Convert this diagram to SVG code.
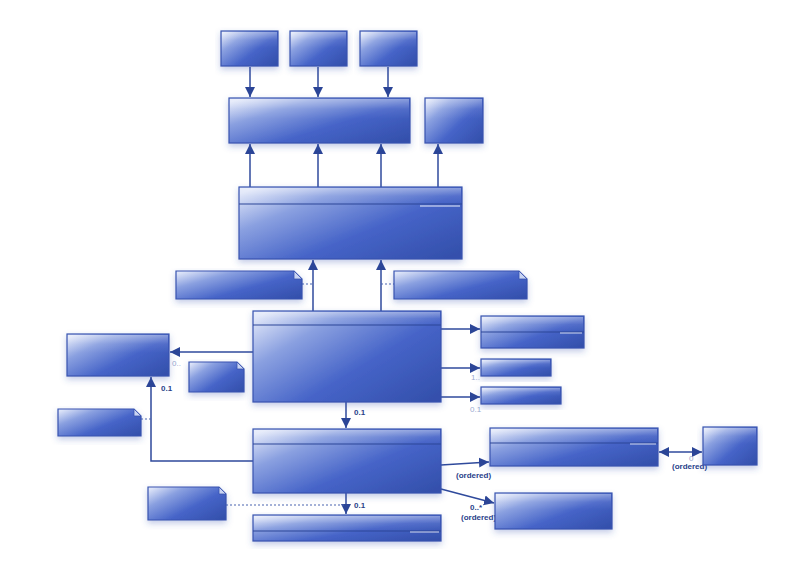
<svg xmlns="http://www.w3.org/2000/svg" width="800" height="565" viewBox="0 0 800 565">
<defs>
<linearGradient id="g" x1="0" y1="0.1" x2="1" y2="0.9">
<stop offset="0" stop-color="#dde4f8"/>
<stop offset="0.25" stop-color="#8aa0e0"/>
<stop offset="0.6" stop-color="#4664c8"/>
<stop offset="1" stop-color="#3450ac"/>
</linearGradient>
<linearGradient id="gl" x1="0" y1="0" x2="0" y2="1">
<stop offset="0" stop-color="#ffffff" stop-opacity="0.35"/>
<stop offset="0.5" stop-color="#ffffff" stop-opacity="0.08"/>
<stop offset="1" stop-color="#ffffff" stop-opacity="0"/>
</linearGradient>
<filter id="sh" x="-10%" y="-10%" width="120%" height="140%">
<feDropShadow dx="0" dy="3" stdDeviation="3" flood-color="#3a55b0" flood-opacity="0.3"/>
</filter>
<marker id="a" markerUnits="userSpaceOnUse" markerWidth="11" markerHeight="11" refX="10" refY="5.5" orient="auto-start-reverse" viewBox="0 0 11 11">
<path d="M0,0.5 L10,5.5 L0,10.5 z" fill="#2b4597"/>
</marker>
<style>
.b{fill:url(#g);stroke:#3853b0;stroke-width:1.2;filter:url(#sh)}
.gl{fill:url(#gl);stroke:none}
.sep{stroke:#2d4698;stroke-width:1.2}
.hl{stroke:#ffffff;stroke-opacity:0.6;stroke-width:1.3}
.ca{fill:none;stroke:#2f4a9c;stroke-width:1.5;marker-end:url(#a)}
.d{fill:none;stroke:#4a64b0;stroke-width:1.2;stroke-dasharray:2 2}
.fold{fill:#c9d4f2;stroke:#3853b0;stroke-width:0.8}
.t{font-family:"Liberation Sans",Arial,sans-serif;font-size:8px;font-weight:bold;fill:#2a3f8a}
.tl{font-family:"Liberation Sans",Arial,sans-serif;font-size:8px;fill:#9aa9d0}
</style>
</defs>
<rect width="800" height="565" fill="#ffffff"/>

<g id="connectors">
<line class="ca" x1="250" y1="67" x2="250" y2="97"/>
<line class="ca" x1="318" y1="67" x2="318" y2="97"/>
<line class="ca" x1="388" y1="67" x2="388" y2="97"/>
<line class="ca" x1="250" y1="187" x2="250" y2="144"/>
<line class="ca" x1="318" y1="187" x2="318" y2="144"/>
<line class="ca" x1="381" y1="187" x2="381" y2="144"/>
<line class="ca" x1="438" y1="187" x2="438" y2="144"/>
<line class="ca" x1="313" y1="311" x2="313" y2="260"/>
<line class="ca" x1="381" y1="311" x2="381" y2="260"/>
<line class="d" x1="302" y1="284" x2="313" y2="284"/>
<line class="d" x1="381" y1="284" x2="394" y2="284"/>
<line class="ca" x1="253" y1="352" x2="170" y2="352"/>
<polyline class="ca" points="253,461 151,461 151,377"/>
<line class="d" x1="141" y1="419" x2="151" y2="419"/>
<line class="ca" x1="441" y1="329" x2="480" y2="329"/>
<line class="ca" x1="441" y1="368" x2="480" y2="368"/>
<line class="ca" x1="441" y1="397" x2="480" y2="397"/>
<line class="ca" x1="346" y1="402" x2="346" y2="428"/>
<line class="ca" x1="441" y1="465" x2="489" y2="462"/>
<line class="ca" x1="659" y1="452" x2="702" y2="452" marker-start="url(#a)"/>
<line class="ca" x1="441" y1="489" x2="494" y2="503"/>
<line class="ca" x1="346" y1="493" x2="346" y2="514"/>
<line class="d" x1="226" y1="505" x2="346" y2="505"/>
</g>

<g id="labels">
<text class="tl" x="172" y="366">0..</text>
<text class="t" x="161" y="391">0.1</text>
<text class="tl" x="471" y="380">1..</text>
<text class="tl" x="470" y="412">0.1</text>
<text class="t" x="354" y="415">0.1</text>
<text class="t" x="456" y="478">(ordered)</text>
<text class="tl" x="689" y="461">0</text>
<text class="t" x="672" y="469">(ordered)</text>
<text class="t" x="470" y="510">0..*</text>
<text class="t" x="461" y="520">(ordered)</text>
<text class="t" x="354" y="508">0.1</text>
</g>

<g id="n1"><rect class="b" x="221" y="31" width="57" height="35"/><rect class="gl" x="222" y="32" width="55" height="16"/></g>
<g id="n2"><rect class="b" x="290" y="31" width="57" height="35"/><rect class="gl" x="291" y="32" width="55" height="16"/></g>
<g id="n3"><rect class="b" x="360" y="31" width="57" height="35"/><rect class="gl" x="361" y="32" width="55" height="16"/></g>
<g id="n4"><rect class="b" x="229" y="98" width="181" height="45"/><rect class="gl" x="230" y="99" width="179" height="20"/></g>
<g id="n5"><rect class="b" x="425" y="98" width="58" height="45"/><rect class="gl" x="426" y="99" width="56" height="20"/></g>
<g id="n6"><rect class="b" x="239" y="187" width="223" height="72"/><rect class="gl" x="240" y="188" width="221" height="16"/><line class="sep" x1="239" y1="204" x2="462" y2="204"/><line class="hl" x1="420" y1="206" x2="460" y2="206"/></g>
<g id="n7"><path class="b" d="M176,271 H294 L302,279 V299 H176 Z"/><path class="fold" d="M294,271 L302,279 H294 Z"/></g>
<g id="n8"><path class="b" d="M394,271 H519 L527,279 V299 H394 Z"/><path class="fold" d="M519,271 L527,279 H519 Z"/></g>
<g id="n9"><rect class="b" x="253" y="311" width="188" height="91"/><rect class="gl" x="254" y="312" width="186" height="13"/><line class="sep" x1="253" y1="325" x2="441" y2="325"/></g>
<g id="n10"><rect class="b" x="67" y="334" width="102" height="42"/><rect class="gl" x="68" y="335" width="100" height="18"/></g>
<g id="n11"><path class="b" d="M189,362 H237 L244,369 V392 H189 Z"/><path class="fold" d="M237,362 L244,369 H237 Z"/></g>
<g id="n12"><path class="b" d="M58,409 H134 L141,416 V436 H58 Z"/><path class="fold" d="M134,409 L141,416 H134 Z"/></g>
<g id="n13"><rect class="b" x="481" y="316" width="103" height="32"/><rect class="gl" x="482" y="317" width="101" height="15"/><line class="sep" x1="481" y1="332" x2="584" y2="332"/><line class="hl" x1="560" y1="333" x2="582" y2="333"/></g>
<g id="n14"><rect class="b" x="481" y="359" width="70" height="17"/><rect class="gl" x="482" y="360" width="68" height="8"/></g>
<g id="n15"><rect class="b" x="481" y="387" width="80" height="17"/><rect class="gl" x="482" y="388" width="78" height="8"/></g>
<g id="n16"><rect class="b" x="253" y="429" width="188" height="64"/><rect class="gl" x="254" y="430" width="186" height="14"/><line class="sep" x1="253" y1="444" x2="441" y2="444"/></g>
<g id="n17"><rect class="b" x="490" y="428" width="168" height="38"/><rect class="gl" x="491" y="429" width="166" height="14"/><line class="sep" x1="490" y1="443" x2="658" y2="443"/><line class="hl" x1="630" y1="444" x2="656" y2="444"/></g>
<g id="n18"><rect class="b" x="703" y="427" width="54" height="38"/><rect class="gl" x="704" y="428" width="52" height="16"/></g>
<g id="n19"><rect class="b" x="495" y="493" width="117" height="36"/><rect class="gl" x="496" y="494" width="115" height="16"/></g>
<g id="n20"><path class="b" d="M148,487 H219 L226,494 V520 H148 Z"/><path class="fold" d="M219,487 L226,494 H219 Z"/></g>
<g id="n21"><rect class="b" x="253" y="515" width="188" height="26"/><rect class="gl" x="254" y="516" width="186" height="15"/><line class="sep" x1="253" y1="531" x2="441" y2="531"/><line class="hl" x1="410" y1="532" x2="439" y2="532"/></g>
</svg>
